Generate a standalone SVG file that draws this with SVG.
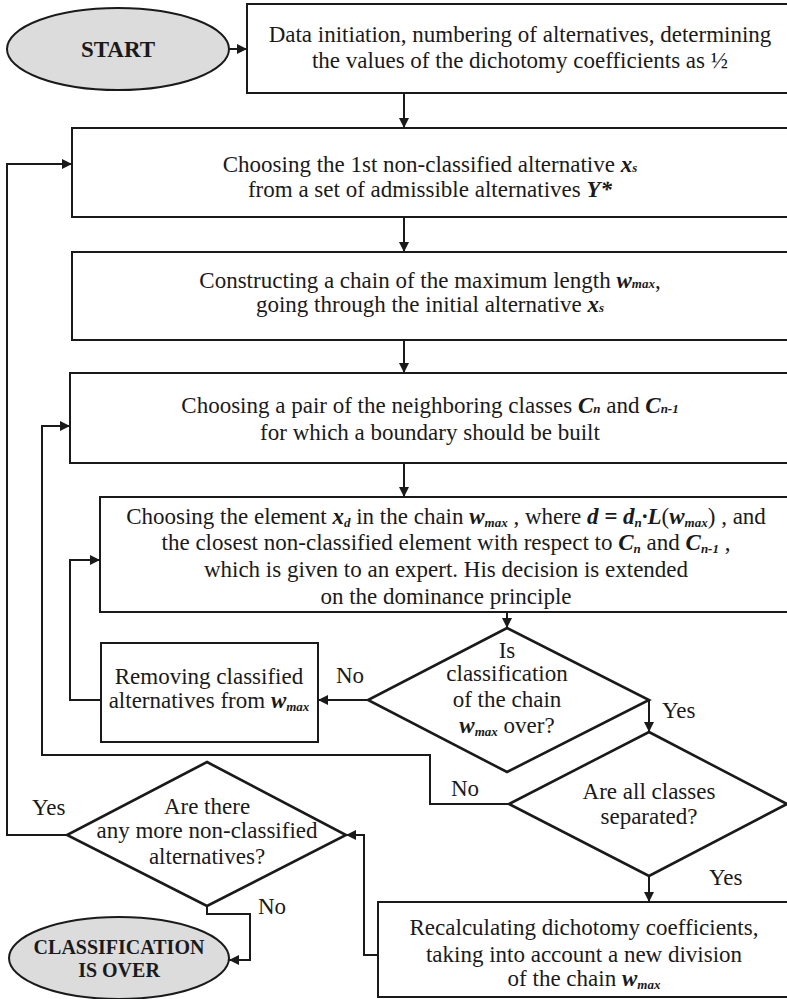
<svg xmlns="http://www.w3.org/2000/svg" width="787" height="999" viewBox="0 0 787 999">
  <defs>
    <marker id="arr" viewBox="0 0 10 10" refX="10" refY="5" markerWidth="10" markerHeight="10" markerUnits="userSpaceOnUse" orient="auto">
      <path d="M0,0 L10,5 L0,10 z" fill="#1a1a1a"/>
    </marker>
    <style>
      text { font-family: "Liberation Serif", "Times New Roman", serif; font-size: 23px; fill: #1a1a1a; text-anchor: middle; }
      .box { fill: #ffffff; stroke: #1a1a1a; stroke-width: 2; }
      .dia { fill: #ffffff; stroke: #1a1a1a; stroke-width: 2.6; }
      .term { fill: #dcdcdc; stroke: #1a1a1a; stroke-width: 2; }
      .term-t { font-weight: bold; font-size: 23px; }
      .term-s { font-weight: bold; font-size: 20px; }
      .lbl { text-anchor: start; }
      .m { font-style: italic; font-weight: bold; }
      .sub { font-size: 13px; font-style: italic; font-weight: bold; }
      .conn path, .conn line { fill: none; stroke: #1a1a1a; stroke-width: 2; }
    </style>
  </defs>

  <rect width="787" height="999" fill="#ffffff"/>

  <!-- connectors -->
  <g id="connectors" class="conn">
    <line x1="229" y1="49" x2="247" y2="49" marker-end="url(#arr)"/>
    <line x1="404" y1="93" x2="404" y2="128" marker-end="url(#arr)"/>
    <line x1="404" y1="217" x2="404" y2="252" marker-end="url(#arr)"/>
    <line x1="404" y1="340" x2="404" y2="373" marker-end="url(#arr)"/>
    <line x1="404" y1="463" x2="404" y2="497" marker-end="url(#arr)"/>
    <line x1="507" y1="612" x2="507" y2="628" marker-end="url(#arr)"/>
    <!-- No: remove classified alternatives -->
    <line x1="368" y1="700" x2="318" y2="700" marker-end="url(#arr)"/>
    <path d="M101,700 H70 V560 H100" marker-end="url(#arr)"/>
    <!-- Yes: chain classified -->
    <line x1="649" y1="700" x2="649" y2="732" marker-end="url(#arr)"/>
    <!-- No: classes not separated -->
    <path d="M509,804 H430 V755 H42 V426 H70" marker-end="url(#arr)"/>
    <!-- Yes: all classes separated -->
    <line x1="649" y1="876" x2="649" y2="902" marker-end="url(#arr)"/>
    <path d="M378,955 H364 V835 H346" marker-end="url(#arr)"/>
    <!-- Yes: more alternatives -->
    <path d="M67,835 H7 V164 H72" marker-end="url(#arr)"/>
    <!-- No: finish -->
    <path d="M207,906 V914 H250 V960 H229" marker-end="url(#arr)"/>
  </g>

  <g id="start">
    <ellipse class="term" cx="118" cy="49" rx="111" ry="41"/>
    <text class="term-t" x="118" y="57">START</text>
  </g>

  <g id="init">
    <rect class="box" x="247" y="4" width="545" height="89"/>
    <text x="520" y="42">Data initiation, numbering of alternatives, determining</text>
    <text x="520" y="68">the values of the dichotomy coefficients as  ½</text>
  </g>

  <g id="choose-alt">
    <rect class="box" x="72" y="128" width="720" height="89"/>
    <text x="430" y="172">Choosing the 1st non-classified alternative  <tspan class="m">x</tspan><tspan class="sub">s</tspan></text>
    <text x="430" y="197">from a set of admissible alternatives <tspan class="m">Y*</tspan></text>
  </g>

  <g id="build-chain">
    <rect class="box" x="72" y="252" width="720" height="88"/>
    <text x="430" y="288">Constructing a chain of the maximum length  <tspan class="m">w</tspan><tspan class="sub">max</tspan>,</text>
    <text x="430" y="312">going through the initial alternative <tspan class="m">x</tspan><tspan class="sub">s</tspan></text>
  </g>

  <g id="choose-pair">
    <rect class="box" x="70" y="373" width="722" height="90"/>
    <text x="430" y="413">Choosing a pair of the neighboring classes  <tspan class="m">C</tspan><tspan class="sub">n</tspan> and  <tspan class="m">C</tspan><tspan class="sub">n-1</tspan></text>
    <text x="430" y="440">for which a boundary should be built</text>
  </g>

  <g id="choose-element">
    <rect class="box" x="100" y="497" width="692" height="115"/>
    <text x="446" y="524">Choosing the element  <tspan class="m">x</tspan><tspan class="sub" dy="3">d</tspan><tspan dy="-3">  in the chain  </tspan><tspan class="m">w</tspan><tspan class="sub" dy="3">max</tspan><tspan dy="-3"> , where  </tspan><tspan class="m">d</tspan><tspan class="m"> = d</tspan><tspan class="sub" dy="3">n</tspan><tspan class="m" dy="-3">·L</tspan>(<tspan class="m">w</tspan><tspan class="sub" dy="3">max</tspan><tspan dy="-3">) , and</tspan></text>
    <text x="446" y="550">the closest non-classified element with respect to  <tspan class="m">C</tspan><tspan class="sub" dy="3">n</tspan><tspan dy="-3">  and  </tspan><tspan class="m">C</tspan><tspan class="sub" dy="3">n-1</tspan><tspan dy="-3"> ,</tspan></text>
    <text x="446" y="577">which is given to an expert. His decision is extended</text>
    <text x="446" y="604">on the dominance principle</text>
  </g>

  <g id="chain-over">
    <polygon class="dia" points="507,628 649,700 507,772 368,700"/>
    <text x="507" y="658">Is</text>
    <text x="507" y="681">classification</text>
    <text x="507" y="707">of the chain</text>
    <text x="507" y="733"><tspan class="m">w</tspan><tspan class="sub" dy="3">max</tspan><tspan dy="-3">  over?</tspan></text>
  </g>

  <g id="remove">
    <rect class="box" x="101" y="643" width="217" height="99"/>
    <text x="209" y="684">Removing classified</text>
    <text x="209" y="708">alternatives from <tspan class="m">w</tspan><tspan class="sub" dy="3">max</tspan></text>
  </g>

  <g id="separated">
    <polygon class="dia" points="649,732 787,804 649,876 509,804"/>
    <text x="649" y="799">Are all classes</text>
    <text x="649" y="824">separated?</text>
  </g>

  <g id="recalc">
    <rect class="box" x="378" y="902" width="414" height="95"/>
    <text x="584" y="935">Recalculating dichotomy coefficients,</text>
    <text x="584" y="962">taking into account a new division</text>
    <text x="584" y="986">of the chain <tspan class="m">w</tspan><tspan class="sub" dy="3">max</tspan></text>
  </g>

  <g id="more-alts">
    <polygon class="dia" points="207,762 346,835 207,906 67,835"/>
    <text x="207" y="814">Are there</text>
    <text x="207" y="838">any more non-classified</text>
    <text x="207" y="864">alternatives?</text>
  </g>

  <g id="end">
    <ellipse class="term" cx="119" cy="958" rx="110" ry="41"/>
    <text class="term-s" x="119" y="954">CLASSIFICATION</text>
    <text class="term-s" x="119" y="977">IS OVER</text>
  </g>

  <!-- branch labels -->
  <g id="labels">
    <text class="lbl" x="336" y="683">No</text>
    <text class="lbl" x="662" y="718">Yes</text>
    <text class="lbl" x="451" y="796">No</text>
    <text class="lbl" x="709" y="885">Yes</text>
    <text class="lbl" x="32" y="815">Yes</text>
    <text class="lbl" x="258" y="914">No</text>
  </g>
</svg>
